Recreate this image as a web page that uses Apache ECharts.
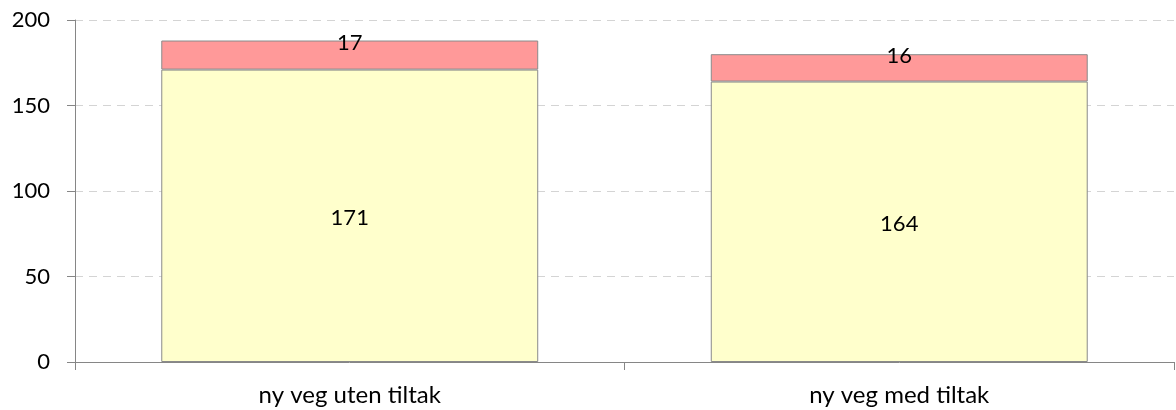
<!DOCTYPE html>
<html>
<head>
<meta charset="utf-8">
<script src="https://cdn.jsdelivr.net/npm/echarts@6/dist/echarts.min.js"></script>
<style>
  html, body { margin: 0; padding: 0; background: #ffffff; }
  #chart { width: 1176px; height: 410px; }
</style>
</head>
<body>
<div id="chart"></div>
<script>
// Categories and stacked values
const categories = ['ny veg uten tiltak', 'ny veg med tiltak'];
const lowerValues = [171, 164];
const upperValues = [17, 16];
const yTicks = [0, 50, 100, 150, 200];

const FONT = 'Lato';
const chart = echarts.init(document.getElementById('chart'), null, { renderer: 'canvas' });

const barBorder = { borderColor: '#8a8a8a', borderWidth: 1 };

chart.setOption({
  animation: false,
  backgroundColor: '#ffffff',
  grid: { left: 75, right: 2, top: 20, bottom: 48, containLabel: false },
  xAxis: {
    type: 'category',
    data: categories,
    boundaryGap: true,
    axisLine: { lineStyle: { color: '#868686', width: 1 } },
    axisTick: { show: true, length: 8, lineStyle: { color: '#868686' } },
    axisLabel: { color: '#000000', fontFamily: FONT, fontSize: 24, margin: 21 }
  },
  yAxis: {
    type: 'value',
    min: yTicks[0],
    max: yTicks[yTicks.length - 1],
    interval: 50,
    axisLine: { show: true, lineStyle: { color: '#868686', width: 1 } },
    axisTick: { show: true, inside: false, length: 8, lineStyle: { color: '#868686' } },
    axisLabel: { color: '#000000', fontFamily: FONT, fontSize: 22, margin: 25 },
    splitLine: { show: true, lineStyle: { color: '#d4d4d4', type: [8, 6], width: 1 } }
  },
  series: [
    {
      type: 'bar',
      stack: 'total',
      data: lowerValues,
      barWidth: '68.6%',
      itemStyle: Object.assign({ color: '#ffffcc' }, barBorder),
      label: {
        show: true,
        position: 'inside',
        offset: [0, 2],
        color: '#000000',
        fontFamily: FONT,
        fontSize: 22
      }
    },
    {
      type: 'bar',
      stack: 'total',
      data: upperValues,
      barWidth: '68.6%',
      itemStyle: Object.assign({ color: '#ff9999' }, barBorder),
      label: {
        show: true,
        position: ['50%', 2],
        align: 'center',
        verticalAlign: 'middle',
        color: '#000000',
        fontFamily: FONT,
        fontSize: 22
      }
    }
  ]
});
</script>
</body>
</html>
